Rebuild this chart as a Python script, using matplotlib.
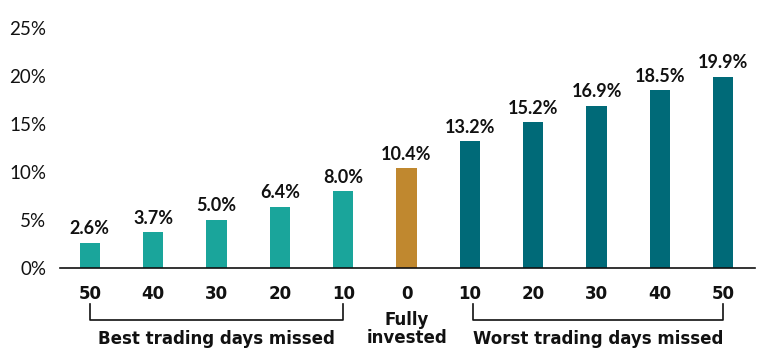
import matplotlib.pyplot as plt

labels = ["50", "40", "30", "20", "10", "0", "10", "20", "30", "40", "50"]
values = [2.6, 3.7, 5.0, 6.4, 8.0, 10.4, 13.2, 15.2, 16.9, 18.5, 19.9]
groups = ["best"] * 5 + ["full"] + ["worst"] * 5
colors = {"best": "#1aa59b", "full": "#c0882f", "worst": "#006a78"}
yticks = [0, 5, 10, 15, 20, 25]

plt.rcParams["font.family"] = ["Lato", "DejaVu Sans"]
wide = ["DejaVu Sans"]

fig = plt.figure(figsize=(7.69, 3.64), dpi=100)
ax = fig.add_axes([60 / 769, 1 - 268 / 364, 695 / 769, 240 / 364])

x = list(range(len(values)))
ax.bar(x, values, width=0.32, color=[colors[g] for g in groups], zorder=2)

for xi, v in zip(x, values):
    ax.annotate(f"{v:.1f}%", (xi, v), xytext=(0, 4), textcoords="offset points",
                ha="center", va="bottom", fontsize=13, fontweight="bold", color="#111111")

ax.set_xlim(-0.47, 10.5)
ax.set_ylim(0, 25)
ax.set_yticks(yticks)
ax.set_yticklabels([f"{t}%" for t in yticks], fontsize=13.5, color="#111111")
ax.set_xticks(x)
ax.set_xticklabels(labels, fontsize=12, fontweight="bold", color="#111111", family=wide)
ax.tick_params(axis="both", length=0)
ax.tick_params(axis="x", pad=12)
ax.tick_params(axis="y", pad=10)
for s in ["top", "right", "left"]:
    ax.spines[s].set_visible(False)
ax.spines["bottom"].set_linewidth(1.2)
ax.spines["bottom"].set_color("#111111")
ax.spines["bottom"].set_zorder(3)

# brackets under the tick labels
trans = ax.get_xaxis_transform()
def bracket(x0, x1, text):
    y_top, y_bot = -0.15, -0.215
    ax.plot([x0, x0, x1, x1], [y_top, y_bot, y_bot, y_top], color="#111111",
            lw=1.2, transform=trans, clip_on=False)
    ax.text((x0 + x1) / 2, -0.26, text, transform=trans, ha="center", va="top",
            fontsize=12, fontweight="bold", color="#111111", family=wide)

bracket(0, 4, "Best trading days missed")
bracket(6.05, 10, "Worst trading days missed")
ax.text(5, -0.18, "Fully\ninvested", transform=trans, ha="center", va="top",
        fontsize=12, fontweight="bold", color="#111111", linespacing=1.0, family=wide)

fig.savefig("out.png", dpi=100)
